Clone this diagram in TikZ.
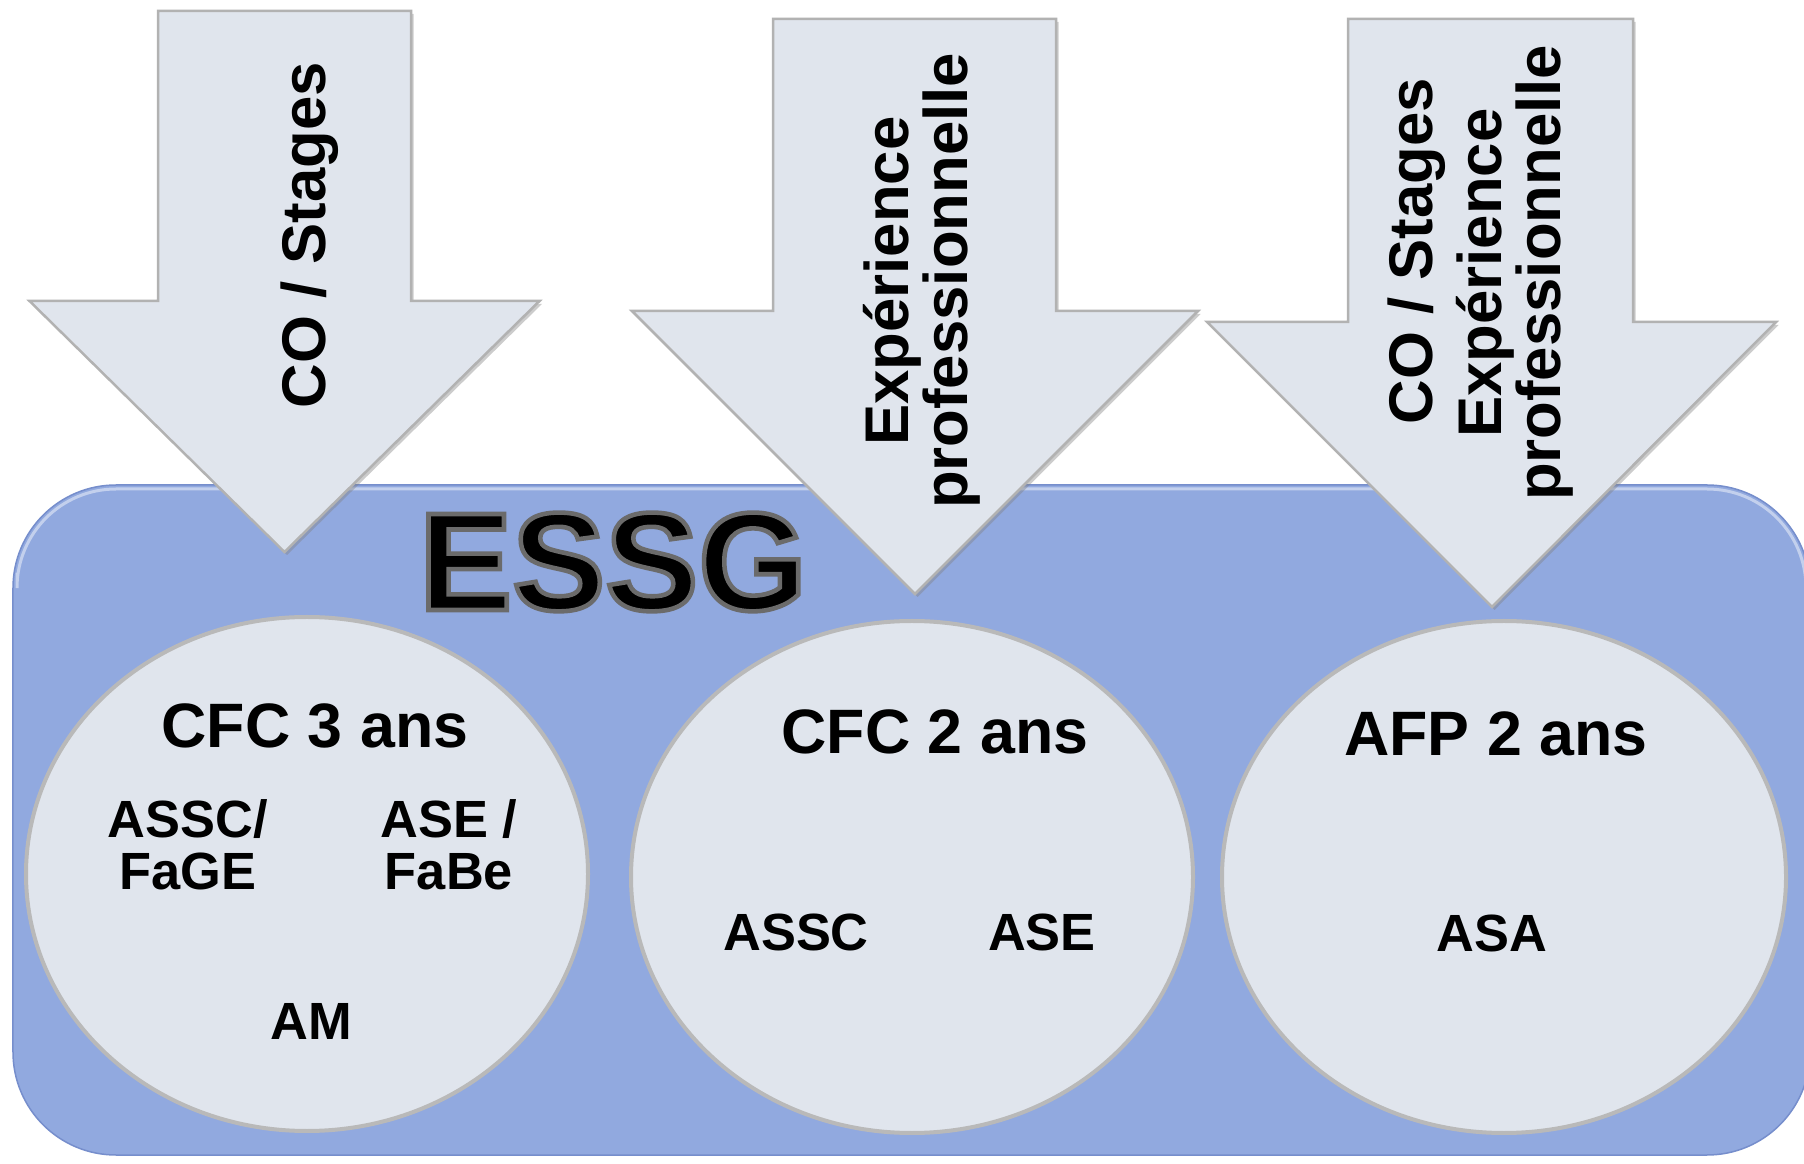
\documentclass[tikz,border=0pt]{standalone}
\usepackage{fontspec}
\setmainfont{Liberation Sans}
\usetikzlibrary{shadows}

\definecolor{essgblue}{RGB}{145,169,223}
\definecolor{essgedge}{RGB}{118,142,204}
\definecolor{pale}{RGB}{224,229,237}

% outlined text: fill black, stroke grey
\newcommand{\contourtext}[1]{\special{pdf:literal direct 2 Tr 2.6 w 0.42 0.42 0.42 RG}#1\special{pdf:literal direct 0 Tr}}

\tikzset{
  fleche/.style={fill=pale, draw=gray!60, line width=0.05cm, line join=miter,
    drop shadow={shadow xshift=0.05cm, shadow yshift=-0.06cm, opacity=0.4}},
  bulle/.style={fill=pale, draw=gray!55, line width=0.08cm},
  sigle/.style={font=\fontsize{79.4}{79.4}\selectfont\bfseries, inner sep=0pt, anchor=base},
  titre/.style={font=\fontsize{35.7}{35.7}\selectfont\bfseries, inner sep=0pt, anchor=base},
  metier/.style={font=\fontsize{29.8}{29.5}\selectfont\bfseries, inner sep=0pt, align=center},
  voie/.style={font=\fontsize{35.1}{31.7}\selectfont\bfseries, inner sep=0pt, align=center, rotate=90},
}

\begin{document}
\begin{tikzpicture}
            \clip (0,0) rectangle (36.080000,23.260000);
            \fill [white] (0,0) rectangle (36.080000,23.260000);%

            % Drawing the ESSG block
            \draw [fill=essgblue, draw=essgedge, line width=0.03cm, rounded corners=2.060000cm] (0.260000,0.160000) rectangle (36.200000,13.560000);%
            \draw [white!45!essgblue, line width=0.06cm, rounded corners=1.980000cm] (0.340000,11.800000) -- (0.340000,13.480000) -- (36.120000,13.480000) -- (36.120000,11.800000);%

            % Drawing the three courses
            \draw [bulle] (6.140000,5.780000) ellipse [x radius=5.620000, y radius=5.140000];%
            \draw [bulle] (18.240000,5.720000) ellipse [x radius=5.620000, y radius=5.120000];%
            \draw [bulle] (30.080000,5.720000) ellipse [x radius=5.640000, y radius=5.120000];%

            % Marking ESSG
            \node (essg) [sigle] at (12.260000,11.060000) {\contourtext{ESSG}};%

            % Drawing arrow 1
            \draw [fleche] (3.160000,23.040000) -- (8.220000,23.040000) -- (8.220000,17.240000) -- (10.790000,17.240000)
              -- (5.690000,12.220000) -- (0.590000,17.240000) -- (3.160000,17.240000) -- cycle;%

            % Drawing arrow 2
            \draw [fleche] (15.460000,22.880000) -- (21.120000,22.880000) -- (21.120000,17.040000) -- (23.960000,17.040000)
              -- (18.300000,11.380000) -- (12.640000,17.040000) -- (15.460000,17.040000) -- cycle;%

            % Drawing arrow 3
            \draw [fleche] (26.960000,22.880000) -- (32.660000,22.880000) -- (32.660000,16.820000) -- (35.520000,16.820000)
              -- (29.840000,11.120000) -- (24.140000,16.820000) -- (26.960000,16.820000) -- cycle;%

            % Marking the ways in
            \node (voie1) [voie, anchor=base] at (6.500000,18.560000) {CO / Stages};%
            \node (voie2) [voie] at (18.440000,17.640000) {Expérience\\professionnelle};%
            \node (voie3a) [voie, anchor=base] at (28.640000,18.240000) {CO / Stages};%
            \node (voie3b) [voie] at (30.300000,17.800000) {Expérience\\professionnelle};%

            % Marking course titles
            \node (cfc3) [titre] at (6.300000,8.300000) {CFC 3 ans};%
            \node (cfc2) [titre] at (18.700000,8.180000) {CFC 2 ans};%
            \node (afp2) [titre] at (29.920000,8.140000) {AFP 2 ans};%

            % Marking the trades
            \node (assc3) [metier] at (3.760000,6.360000) {ASSC/\\FaGE};%
            \node (ase3) [metier] at (8.980000,6.360000) {ASE /\\FaBe};%
            \node (am) [metier, anchor=base] at (6.220000,2.480000) {AM};%
            \node (assc2) [metier, anchor=base] at (15.920000,4.260000) {ASSC};%
            \node (ase2) [metier, anchor=base] at (20.840000,4.260000) {ASE};%
            \node (asa) [metier, anchor=base] at (29.840000,4.220000) {ASA};%
        \end{tikzpicture}
\end{document}
